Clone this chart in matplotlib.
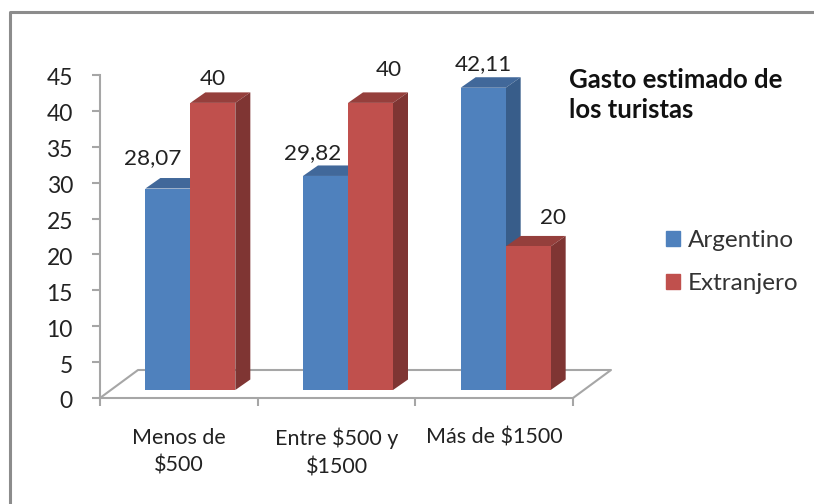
#!/usr/bin/env python3
import matplotlib
matplotlib.use("Agg")
import matplotlib.pyplot as plt
from matplotlib.lines import Line2D
from matplotlib.patches import Patch, Polygon
from matplotlib.transforms import ScaledTranslation

plt.rcParams['font.family'] = ['Lato', 'DejaVu Sans']
plt.rcParams['text.parse_math'] = False

# Data
categories = ["Menos de\n$500", "Entre $500 y\n$1500", "Más de $1500"]
argentino = [28.07, 29.82, 42.11]
extranjero = [40, 40, 20]
y_ticks = list(range(0, 50, 5))
title_text = "Gasto estimado de\nlos turistas"

BLUE = ("#4F81BD", "#41689A", "#385D8A")   # front, top, side
RED = ("#C0504D", "#953F3C", "#7F3533")
GREY = "#A6A6A6"

W, H = 814, 504
fig = plt.figure(figsize=(W / 100, H / 100), dpi=100)
ax = fig.add_axes([100 / W, (H - 398) / H, (573 - 100) / W, (398 - 75) / H])
ax.set_xlim(0, 3)
ax.set_ylim(0, 45)

# fake 3d offsets, in data units
px_x = 3 / (573 - 100)
px_y = 45 / (398 - 75)
bar_w = 45 * px_x
shift = 11.5 * px_x
base = 8 * px_y
dx = 15 * px_x
dy = 10.5 * px_y
floor_dx = 38 * px_x
floor_dy = 28 * px_y


def draw_bar(x, value, colors):
    front, top, side = colors
    y0 = base
    y1 = base + value
    ax.bar(x, value, bar_w, bottom=y0, align="edge", color=front, zorder=3)
    ax.add_patch(Polygon([(x, y1), (x + bar_w, y1), (x + bar_w + dx, y1 + dy), (x + dx, y1 + dy)],
                         closed=True, color=top, lw=0, zorder=2, clip_on=False))
    ax.add_patch(Polygon([(x + bar_w, y0), (x + bar_w + dx, y0 + dy), (x + bar_w + dx, y1 + dy), (x + bar_w, y1)],
                         closed=True, color=side, lw=0, zorder=2, clip_on=False))


# floor of the 3d box
ax.plot([0, floor_dx, 3 + floor_dx, 3], [0, floor_dy, floor_dy, 0],
        color=GREY, lw=1.5, zorder=1, clip_on=False)

for i in range(len(categories)):
    left = i + 0.5 + shift - bar_w
    draw_bar(left, argentino[i], BLUE)
    draw_bar(left + bar_w, extranjero[i], RED)


def fmt(v):
    return f"{v:g}".replace(".", ",")


# label nudges in pixels, the original ones were dragged around by hand
blue_nudge = [(-15, 30), (-13, 23), (0, 24)]
red_nudge = [(0, 24), (18, 33), (25, 28)]
for i in range(len(categories)):
    left = i + 0.5 + shift - bar_w
    for x, v, n in ((left + bar_w / 2, argentino[i], blue_nudge[i]),
                    (left + bar_w * 1.5, extranjero[i], red_nudge[i])):
        ax.annotate(fmt(v), (x, base + v), xytext=(n[0] * 0.72, n[1] * 0.72),
                    textcoords="offset points", ha="center", va="center",
                    fontsize=16.2, color="#222222", zorder=5, annotation_clip=False)

for s in ("top", "right"):
    ax.spines[s].set_visible(False)
for s in ("left", "bottom"):
    ax.spines[s].set_color(GREY)
    ax.spines[s].set_linewidth(1.5)

ax.set_yticks(y_ticks)
ax.set_xticks([0, 1, 2, 3])
ax.set_xticks([0.5, 1.5, 2.5], minor=True)
ax.set_xticklabels([])
ax.set_xticklabels(categories, minor=True, fontsize=15.5, color="#222222", linespacing=1.5)
ax.tick_params(axis="x", which="major", length=6, width=1.5, color=GREY)
ax.tick_params(axis="x", which="minor", length=0, pad=21.5)
ax.tick_params(axis="y", length=6, width=1.5, color=GREY, labelsize=16.5, labelcolor="#222222", pad=13.5)

# y labels sit a touch below their ticks in the source
for lab in ax.get_yticklabels():
    lab.set_transform(lab.get_transform() + ScaledTranslation(0, -2 / 100, fig.dpi_scale_trans))

fig.text(569 / W, (H - 95) / H, title_text, fontsize=18.5, fontweight="bold",
         color="#111111", ha="left", va="center", linespacing=1.35)

handles = [Patch(color=BLUE[0], label="Argentino"), Patch(color=RED[0], label="Extranjero")]
fig.legend(handles=handles, loc="center left", bbox_to_anchor=(666 / W, (H - 262) / H),
           frameon=False, fontsize=17.5, labelcolor="#333333", handlelength=0.58, handleheight=0.58,
           handletextpad=0.33, labelspacing=0.88, borderpad=0, borderaxespad=0)

# outer frame, only left and top survive in the source image
fig.add_artist(Line2D([9.5 / W, 9.5 / W, 1], [0, (H - 11.5) / H, (H - 11.5) / H],
                      color="#8C8C8C", lw=2.2, transform=fig.transFigure))

fig.savefig("out.png", dpi=100)
